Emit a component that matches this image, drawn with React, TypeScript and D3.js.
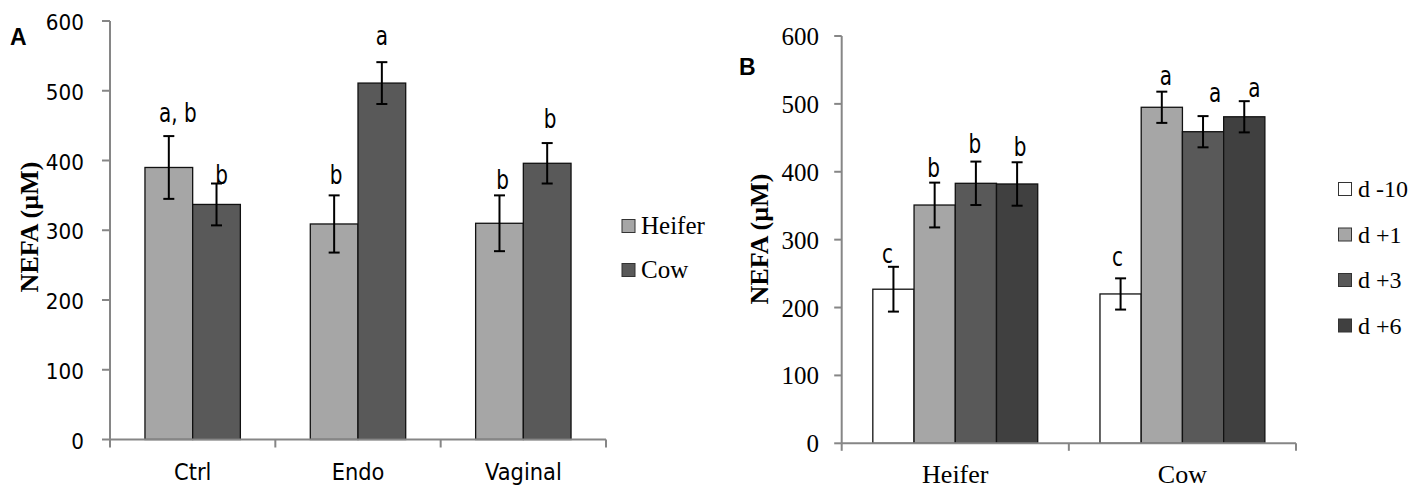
import React from "react";
import * as d3 from "d3";

// ---- Panel A: NEFA by treatment group ----
const treatmentsA = ["Ctrl", "Endo", "Vaginal"];
const parityA = ["Heifer", "Cow"];
const heiferNefaA = [390, 309, 310];
const heiferSemA = [45, 41, 40];
const cowNefaA = [337, 511, 396];
const cowSemA = [30, 30, 29];
const heiferLettersA = ["a, b", "b", "b"];
const cowLettersA = ["b", "a", "b"];

// ---- Panel B: NEFA by day relative to calving ----
const parityB = ["Heifer", "Cow"];
const daysB = ["d -10", "d +1", "d +3", "d +6"];
const dMinus10 = [227, 220];
const dMinus10Sem = [33, 23];
const dPlus1 = [351, 495];
const dPlus1Sem = [33, 23];
const dPlus3 = [383, 459];
const dPlus3Sem = [32, 23];
const dPlus6 = [382, 481];
const dPlus6Sem = [32, 23];
const lettersBHeifer = ["c", "b", "b", "b"];
const lettersBCow = ["c", "a", "a", "a"];

const yTicks = [0, 100, 200, 300, 400, 500, 600];

// label nudges (px) for the significance letters: [dx, dy above the error cap]
const nudgeA = [
  [[9, -14], [5, 0]],
  [[2, -11], [0, -17]],
  [[3, -6], [3, -15]],
];
const nudgeB = [
  [[-6, -4], [-1, -6], [-1, -9], [3, -6]],
  [[-3, -12], [4, -7], [12, -14], [10, -4]],
];

const AXIS = "#868686";
const SERIF = "'Liberation Serif', 'Times New Roman', Times, serif";
const SANS = "'DejaVu Sans', Verdana, sans-serif";
const colorsA = ["#a6a6a6", "#595959"];
const colorsB = ["#ffffff", "#a6a6a6", "#595959", "#404040"];

type Cell = { cat: number; ser: number; v: number; e: number; letter: string };

function ErrorBar({ x, y0, y1 }: { x: number; y0: number; y1: number }) {
  const cap = 5.5;
  return (
    <g stroke="#000" strokeWidth={2}>
      <line x1={x} x2={x} y1={y0} y2={y1} />
      <line x1={x - cap} x2={x + cap} y1={y0} y2={y0} />
      <line x1={x - cap} x2={x + cap} y1={y1} y2={y1} />
    </g>
  );
}

export default function App() {
  // ---------- Panel A scales ----------
  const xA = d3.scaleBand<string>().domain(treatmentsA).range([110, 606]);
  const xAInner = d3
    .scaleBand<string>()
    .domain(parityA)
    .range([0, xA.bandwidth()])
    .paddingInner(0)
    .paddingOuter(0.733);
  const yA = d3.scaleLinear().domain([0, 600]).range([439.5, 21]);

  const cellsA: Cell[] = [];
  treatmentsA.forEach((_, i) => {
    cellsA.push({ cat: i, ser: 0, v: heiferNefaA[i], e: heiferSemA[i], letter: heiferLettersA[i] });
    cellsA.push({ cat: i, ser: 1, v: cowNefaA[i], e: cowSemA[i], letter: cowLettersA[i] });
  });

  // ---------- Panel B scales ----------
  const xB = d3.scaleBand<string>().domain(parityB).range([841.7, 1296]);
  const xBInner = d3
    .scaleBand<string>()
    .domain(daysB)
    .range([0, xB.bandwidth()])
    .paddingInner(0)
    .paddingOuter(0.755);
  const yB = d3.scaleLinear().domain([0, 600]).range([443.3, 36]);

  const valsB = [dMinus10, dPlus1, dPlus3, dPlus6];
  const semsB = [dMinus10Sem, dPlus1Sem, dPlus3Sem, dPlus6Sem];
  const cellsB: Cell[] = [];
  parityB.forEach((_, i) => {
    daysB.forEach((_, j) => {
      cellsB.push({
        cat: i,
        ser: j,
        v: valsB[j][i],
        e: semsB[j][i],
        letter: (i === 0 ? lettersBHeifer : lettersBCow)[j],
      });
    });
  });

  const xA0 = xA.range()[0];
  const xA1 = xA.range()[1];
  const xB0 = xB.range()[0];
  const xB1 = xB.range()[1];
  const boundsA = [...treatmentsA.map((c) => xA(c)!), xA1];
  const boundsB = [...parityB.map((c) => xB(c)!), xB1];

  return (
    <svg
      width={1427}
      height={488}
      style={{ position: "absolute", left: 0, top: 0, background: "#fff" }}
    >
      <rect width={1427} height={488} fill="#fff" />

      {/* ================= Panel A ================= */}
      <text x={10} y={45} fontFamily="'Liberation Sans', Arial, sans-serif" fontWeight="bold" fontSize={23}>
        A
      </text>
      <text
        transform="translate(38,227) rotate(-90)"
        textAnchor="middle"
        fontFamily={SERIF}
        fontWeight="bold"
        fontSize={26}
      >
        NEFA (µM)
      </text>

      {/* bars */}
      {cellsA.map((c, k) => {
        const x = xA(treatmentsA[c.cat])! + xAInner(parityA[c.ser])!;
        const w = xAInner.bandwidth();
        return (
          <rect
            key={`ba${k}`}
            x={x}
            y={yA(c.v)}
            width={w}
            height={yA(0) - yA(c.v)}
            fill={colorsA[c.ser]}
            stroke="#111"
            strokeWidth={1.3}
          />
        );
      })}

      {/* axes */}
      <g stroke={AXIS} strokeWidth={2} fill="none">
        <line x1={xA0} x2={xA0} y1={yA(600)} y2={yA(0)} />
        {yTicks.map((t) => (
          <line key={`ta${t}`} x1={xA0 - 8} x2={xA0} y1={yA(t)} y2={yA(t)} />
        ))}
        <line x1={xA0} x2={xA1} y1={yA(0)} y2={yA(0)} />
        {boundsA.map((b, i) => (
          <line key={`xa${i}`} x1={b} x2={b} y1={yA(0)} y2={yA(0) + 8} />
        ))}
      </g>

      {/* error bars and letters */}
      {cellsA.map((c, k) => {
        const cx = xA(treatmentsA[c.cat])! + xAInner(parityA[c.ser])! + xAInner.bandwidth() / 2;
        const top = yA(c.v + c.e);
        const [dx, dy] = nudgeA[c.cat][c.ser];
        return (
          <g key={`ea${k}`}>
            <ErrorBar x={cx} y0={top} y1={yA(c.v - c.e)} />
            <text
              transform={`translate(${cx + dx},${top + dy}) scale(1,1.35)`}
              textAnchor="middle"
              fontFamily={SANS}
              fontSize={20}
              fill="#000"
            >
              {c.letter}
            </text>
          </g>
        );
      })}

      {/* tick labels */}
      {yTicks.map((t) => (
        <text
          key={`la${t}`}
          transform={`translate(84,${yA(t) + 9}) scale(1,1.08)`}
          textAnchor="end"
          fontFamily={SANS}
          fontSize={20}
        >
          {t}
        </text>
      ))}
      {treatmentsA.map((c) => (
        <text
          key={`ca${c}`}
          transform={`translate(${xA(c)! + xA.bandwidth() / 2},480) scale(1,1.1)`}
          textAnchor="middle"
          fontFamily={SANS}
          fontSize={21}
        >
          {c}
        </text>
      ))}

      {/* legend A */}
      {parityA.map((s, i) => (
        <g key={`lga${s}`}>
          <rect
            x={622}
            y={219.5 + i * 44}
            width={13}
            height={13}
            fill={colorsA[i]}
            stroke="#333"
            strokeWidth={1}
          />
          <text x={641} y={233.5 + i * 44} fontFamily={SERIF} fontSize={25}>
            {s}
          </text>
        </g>
      ))}

      {/* ================= Panel B ================= */}
      <text x={739} y={75} fontFamily="'Liberation Sans', Arial, sans-serif" fontWeight="bold" fontSize={23}>
        B
      </text>
      <text
        transform="translate(768,239) rotate(-90)"
        textAnchor="middle"
        fontFamily={SERIF}
        fontWeight="bold"
        fontSize={26}
      >
        NEFA (µM)
      </text>

      {cellsB.map((c, k) => {
        const x = xB(parityB[c.cat])! + xBInner(daysB[c.ser])!;
        const w = xBInner.bandwidth();
        return (
          <rect
            key={`bb${k}`}
            x={x}
            y={yB(c.v)}
            width={w}
            height={yB(0) - yB(c.v)}
            fill={colorsB[c.ser]}
            stroke="#111"
            strokeWidth={1.3}
          />
        );
      })}

      <g stroke={AXIS} strokeWidth={2} fill="none">
        <line x1={xB0} x2={xB0} y1={yB(600)} y2={yB(0)} />
        {yTicks.map((t) => (
          <line key={`tb${t}`} x1={xB0 - 7.5} x2={xB0} y1={yB(t)} y2={yB(t)} />
        ))}
        <line x1={xB0} x2={xB1} y1={yB(0)} y2={yB(0)} />
        {boundsB.map((b, i) => (
          <line key={`xb${i}`} x1={b} x2={b} y1={yB(0)} y2={yB(0) + 7.5} />
        ))}
      </g>

      {cellsB.map((c, k) => {
        const cx = xB(parityB[c.cat])! + xBInner(daysB[c.ser])! + xBInner.bandwidth() / 2;
        const top = yB(c.v + c.e);
        const [dx, dy] = nudgeB[c.cat][c.ser];
        return (
          <g key={`eb${k}`}>
            <ErrorBar x={cx} y0={top} y1={yB(c.v - c.e)} />
            <text
              transform={`translate(${cx + dx},${top + dy}) scale(1,1.35)`}
              textAnchor="middle"
              fontFamily={SANS}
              fontSize={20}
              fill="#000"
            >
              {c.letter}
            </text>
          </g>
        );
      })}

      {yTicks.map((t) => (
        <text
          key={`lb${t}`}
          x={819}
          y={yB(t) + 9}
          textAnchor="end"
          fontFamily={SERIF}
          fontSize={25}
        >
          {t}
        </text>
      ))}
      {parityB.map((c) => (
        <text
          key={`cb${c}`}
          x={xB(c)! + xB.bandwidth() / 2}
          y={483}
          textAnchor="middle"
          fontFamily={SERIF}
          fontSize={26}
        >
          {c}
        </text>
      ))}

      {/* legend B */}
      {daysB.map((s, i) => (
        <g key={`lgb${s}`}>
          <rect
            x={1338.5}
            y={182.5 + i * 45.5}
            width={13}
            height={13}
            fill={colorsB[i]}
            stroke="#333"
            strokeWidth={1}
          />
          <text x={1358} y={197 + i * 45.5} fontFamily={SERIF} fontSize={24}>
            {s}
          </text>
        </g>
      ))}
    </svg>
  );
}
